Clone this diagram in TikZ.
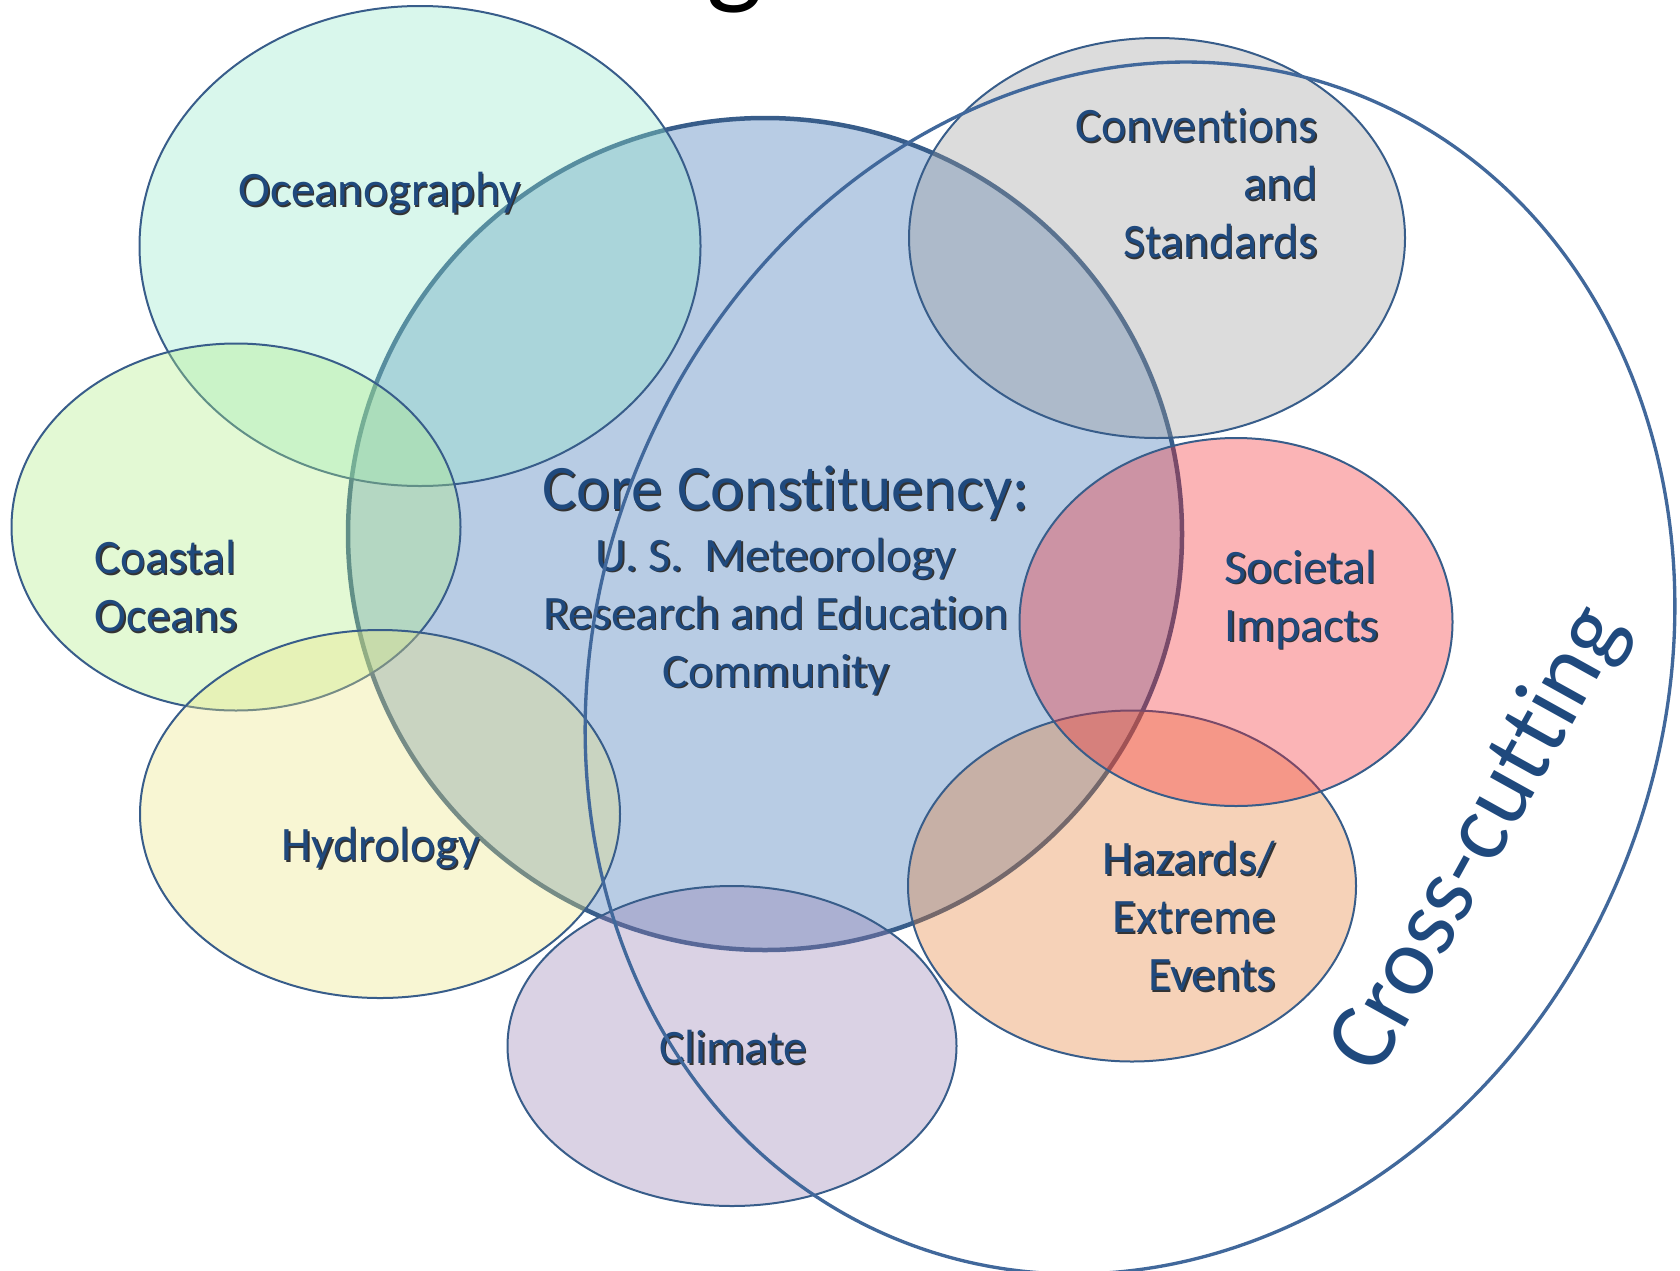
\documentclass[tikz,border=0pt]{standalone}
\usepackage{fontspec}
\setmainfont{Carlito}[Ligatures=NoCommon]
\usepackage{tikz}
\usetikzlibrary{shapes.geometric}
\definecolor{labelblue}{RGB}{31,73,125}
\definecolor{rimblue}{RGB}{56,93,138}
\definecolor{crossblue}{RGB}{65,104,155}
\definecolor{corefill}{RGB}{184,204,228}
\definecolor{oceanfill}{RGB}{146,232,201}
\definecolor{coastfill}{RGB}{175,238,132}
\definecolor{hydrofill}{RGB}{235,229,129}
\definecolor{climatefill}{RGB}{149,126,178}
\definecolor{convfill}{RGB}{155,155,155}
\definecolor{hazardfill}{RGB}{229,126,52}
\definecolor{societalfill}{RGB}{244,41,46}
\newcommand{\txtshadow}[1]{\leavevmode\rlap{\kern0.45pt\raisebox{-0.45pt}{\textcolor{black!80}{#1}}}#1}
\newcommand{\nolig}{\kern0pt }
\tikzstyle{blob} = [ellipse, inner sep=0pt, draw=rimblue, line width=0.6pt, fill opacity=0.35]
\tikzstyle{corecircle} = [ellipse, inner sep=0pt, draw=rimblue, line width=1.35pt, fill=corefill]
\tikzstyle{crossring} = [ellipse, inner sep=0pt, draw=crossblue, line width=1pt]
\tikzstyle{areatext} = [inner sep=0pt, text=labelblue, font=\fontsize{14.4}{17.4}\selectfont]
\tikzset{dims/.style 2 args={minimum width=#1*0.3pt, minimum height=#2*0.3pt}}

\begin{document}
\begin{tikzpicture}[x=0.3pt, y=-0.3pt]
    \useasboundingbox (0,0) rectangle (1680,1270);
    % Title remnant
    \node (titleg) [anchor=base, font=\fontsize{36}{40}\selectfont] at (735,-8) {g};
    % Areas
    \node (core) [corecircle, dims={834}{832}] at (765,534) {};
    \node (ocean) [blob, fill=oceanfill, dims={561}{480}] at (420,246) {};
    \node (coastal) [blob, fill=coastfill, dims={449}{367}] at (236,527) {};
    \node (hydro) [blob, fill=hydrofill, dims={480}{368}] at (380,814) {};
    \node (climate) [blob, fill=climatefill, dims={449}{320}] at (732,1046) {};
    \node (conv) [blob, fill=convfill, dims={496}{400}] at (1157,238) {};
    \node (hazards) [blob, fill=hazardfill, dims={448}{351}] at (1132,886) {};
    \node (societal) [blob, fill=societalfill, dims={433}{368}] at (1236,622) {};
    % Labels
    \node (oceanlbl) [areatext] at (380,194) {\txtshadow{Oceanography}};
    \node (coastlbl) [areatext, anchor=west, align=left] at (94,587) {\txtshadow{Coastal}\\\txtshadow{Oceans}};
    \node (hydrolbl) [areatext] at (381,849) {\txtshadow{Hydrology}};
    \node (climatelbl) [areatext] at (733,1048) {\txtshadow{Climate}};
    \node (convlbl) [areatext, anchor=east, align=right] at (1318,184) {\txtshadow{Convent\nolig ions}\\\txtshadow{and}\\\txtshadow{Standards}};
    \node (societallbl) [areatext, anchor=west, align=left] at (1224,600) {\txtshadow{Societal}\\\txtshadow{Impacts}};
    \node (hazardslbl) [areatext, anchor=east, align=right] at (1276,917) {\txtshadow{Hazards/}\\\txtshadow{Extreme}\\\txtshadow{Events}};
    \node (coretitle) [areatext, font=\fontsize{19}{23}\selectfont] at (786,494) {\txtshadow{Core Const\nolig it\nolig uency:}};
    \node (coretext) [areatext, align=center] at (776,617) {\txtshadow{U. S.\ \ Meteorology}\\\txtshadow{Research and Educat\nolig ion}\\\txtshadow{Community}};
    % Cross-cutting ring
    \node (crossing) [crossring, dims={1064}{1234}, rotate=-22] at (1130,668) {};
    \node (crosslbl) [text=labelblue, inner sep=0pt, font=\fontsize{29}{34}\selectfont, rotate=61] at (1480,840) {Cross-cut\nolig t\nolig ing};
\end{tikzpicture}
\end{document}
